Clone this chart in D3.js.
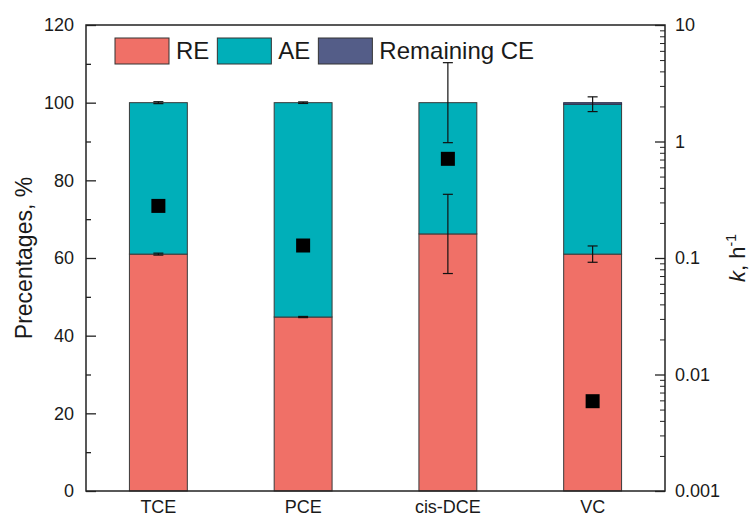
<!DOCTYPE html>
<html>

<head>
    <meta charset="utf-8">
    <script src="https://d3js.org/d3.v7.min.js"></script>
    <style>
        body { margin: 0; background: white; }
    </style>
    <script>
        const width = 756
        const height = 517
        const margin = { top: 25, right: 91, bottom: 26, left: 86 }

        const fontFamily = "'Liberation Sans', Arial, sans-serif"
        const fontColor = "#1a1a1a"

        // data
        const categories = ["TCE", "PCE", "cis-DCE", "VC"]
        const reValues = [61.0, 44.8, 66.2, 61.0]
        const aeValues = [39.0, 55.2, 33.8, 38.6]
        const remainingValues = [0, 0, 0, 0.4]
        const reErrors = [0.25, 0.15, 10.2, 2.1]
        const aeErrors = [0.25, 0.2, 10.3, 1.9]
        const kValues = [0.28, 0.128, 0.71, 0.0059]

        const leftTicks = [0, 20, 40, 60, 80, 100, 120]
        const leftMinorTicks = [10, 30, 50, 70, 90, 110]
        const rightTicks = [0.001, 0.01, 0.1, 1, 10]
        const rightTickLabels = ["0.001", "0.01", "0.1", "1", "10"]

        const seriesNames = ["RE", "AE", "Remaining CE"]
        const seriesColors = ["#f07067", "#00afb9", "#545d88"]

        function draw() {
            const svg = d3.select("body").append("svg")
                .attr("width", width).attr("height", height)
                .style("font-family", fontFamily)

            const x0 = margin.left, x1 = width - margin.right
            const y0 = height - margin.bottom, y1 = margin.top

            const x = d3.scaleBand().domain(categories).range([x0, x1]).paddingInner(0.6).paddingOuter(0.3)
            const y = d3.scaleLinear().domain([0, 120]).range([y0, y1])
            const yk = d3.scaleLog().domain([0.001, 10]).range([y0, y1])

            // stacked bars
            const rows = categories.map((c, i) => ({ cat: c, RE: reValues[i], AE: aeValues[i], "Remaining CE": remainingValues[i] }))
            const stack = d3.stack().keys(seriesNames)(rows)

            stack.forEach((layer, li) => {
                svg.append("g").selectAll("rect")
                    .data(layer)
                    .enter()
                    .append("rect")
                    .attr("x", d => x(d.data.cat))
                    .attr("width", x.bandwidth())
                    .attr("y", d => y(d[1]))
                    .attr("height", d => y(d[0]) - y(d[1]))
                    .attr("fill", seriesColors[li])
                    .attr("stroke", li == 2 ? "#2a2f4a" : "#3a3a3a")
                    .attr("stroke-width", 1)
            })

            // error bars at cumulative tops
            const errs = []
            categories.forEach((c, i) => {
                errs.push({ cat: c, v: reValues[i], e: reErrors[i] })
                errs.push({ cat: c, v: reValues[i] + aeValues[i], e: aeErrors[i] })
            })
            const capW = 5
            const eg = svg.append("g").attr("stroke", "#111").attr("stroke-width", 1.2)
            errs.forEach(d => {
                const cx = x(d.cat) + x.bandwidth() / 2
                eg.append("line").attr("x1", cx).attr("x2", cx).attr("y1", y(d.v - d.e)).attr("y2", y(d.v + d.e))
                eg.append("line").attr("x1", cx - capW).attr("x2", cx + capW).attr("y1", y(d.v - d.e)).attr("y2", y(d.v - d.e))
                eg.append("line").attr("x1", cx - capW).attr("x2", cx + capW).attr("y1", y(d.v + d.e)).attr("y2", y(d.v + d.e))
            })

            // k markers on the log axis
            const sq = 14
            svg.append("g").selectAll("rect")
                .data(categories)
                .enter()
                .append("rect")
                .attr("x", d => x(d) + x.bandwidth() / 2 - sq / 2)
                .attr("y", (d, i) => yk(kValues[i]) - sq / 2)
                .attr("width", sq).attr("height", sq)
                .attr("fill", "black")

            // frame
            svg.append("rect")
                .attr("x", x0).attr("y", y1).attr("width", x1 - x0).attr("height", y0 - y1)
                .attr("fill", "none").attr("stroke", "#222").attr("stroke-width", 1.5)

            // left axis
            const left = svg.append("g").attr("transform", `translate(${x0},0)`)
                .call(d3.axisRight(y).tickValues(leftTicks).tickSize(10).tickFormat(d3.format("d")))
            left.select(".domain").remove()
            left.selectAll(".tick line").attr("stroke", "#222").attr("stroke-width", 1.3)
            left.selectAll(".tick text")
                .attr("x", -12).attr("text-anchor", "end")
                .style("font-size", "18px").style("font-family", fontFamily).attr("fill", fontColor)
            const leftMinor = svg.append("g").attr("transform", `translate(${x0},0)`)
                .call(d3.axisRight(y).tickValues(leftMinorTicks).tickSize(5).tickFormat(""))
            leftMinor.select(".domain").remove()
            leftMinor.selectAll(".tick line").attr("stroke", "#222").attr("stroke-width", 1.3)

            // right axis (log)
            const right = svg.append("g").attr("transform", `translate(${x1},0)`)
                .call(d3.axisLeft(yk).tickValues(rightTicks).tickSize(10).tickFormat((d, i) => rightTickLabels[i]))
            right.select(".domain").remove()
            right.selectAll(".tick line").attr("stroke", "#222").attr("stroke-width", 1.3)
            right.selectAll(".tick text")
                .attr("x", 10).attr("text-anchor", "start")
                .style("font-size", "18px").style("font-family", fontFamily).attr("fill", fontColor)
            const minorK = []
            rightTicks.slice(0, -1).forEach(t => { for (let m = 2; m <= 9; m++) minorK.push(t * m) })
            const rightMinor = svg.append("g").attr("transform", `translate(${x1},0)`)
                .call(d3.axisLeft(yk).tickValues(minorK).tickSize(5).tickFormat(""))
            rightMinor.select(".domain").remove()
            rightMinor.selectAll(".tick line").attr("stroke", "#222").attr("stroke-width", 1)

            // bottom category labels
            const bottom = svg.append("g").attr("transform", `translate(0,${y0})`)
                .call(d3.axisBottom(x).tickSize(0).tickPadding(9))
            bottom.select(".domain").remove()
            bottom.selectAll(".tick text")
                .style("font-size", "18px").style("font-family", fontFamily).attr("fill", fontColor)

            // axis titles
            svg.append("text")
                .attr("transform", `translate(32,${(y0 + y1) / 2}) rotate(-90)`)
                .attr("text-anchor", "middle")
                .style("font-size", "23px").attr("fill", fontColor)
                .text("Precentages, %")

            const kTitle = svg.append("text")
                .attr("transform", `translate(745,${(y0 + y1) / 2}) rotate(-90)`)
                .attr("text-anchor", "middle")
                .style("font-size", "22px").attr("fill", fontColor)
            kTitle.append("tspan").style("font-style", "italic").text("k")
            kTitle.append("tspan").text(", h")
            kTitle.append("tspan").attr("dy", -9).style("font-size", "14px").text("-1")

            // legend
            const legend = svg.append("g")
            let lx = 115
            seriesNames.forEach((name, i) => {
                legend.append("rect")
                    .attr("x", lx).attr("y", 38).attr("width", 54).attr("height", 26)
                    .attr("fill", seriesColors[i]).attr("stroke", "#333").attr("stroke-width", 1)
                const t = legend.append("text")
                    .attr("x", lx + 61).attr("y", 58.5)
                    .style("font-size", "24px").attr("fill", fontColor)
                    .text(name)
                lx = lx + 61 + t.node().getComputedTextLength() + 8
            })
        }
    </script>

</head>

<body onload="draw()">
</body>

</html>
